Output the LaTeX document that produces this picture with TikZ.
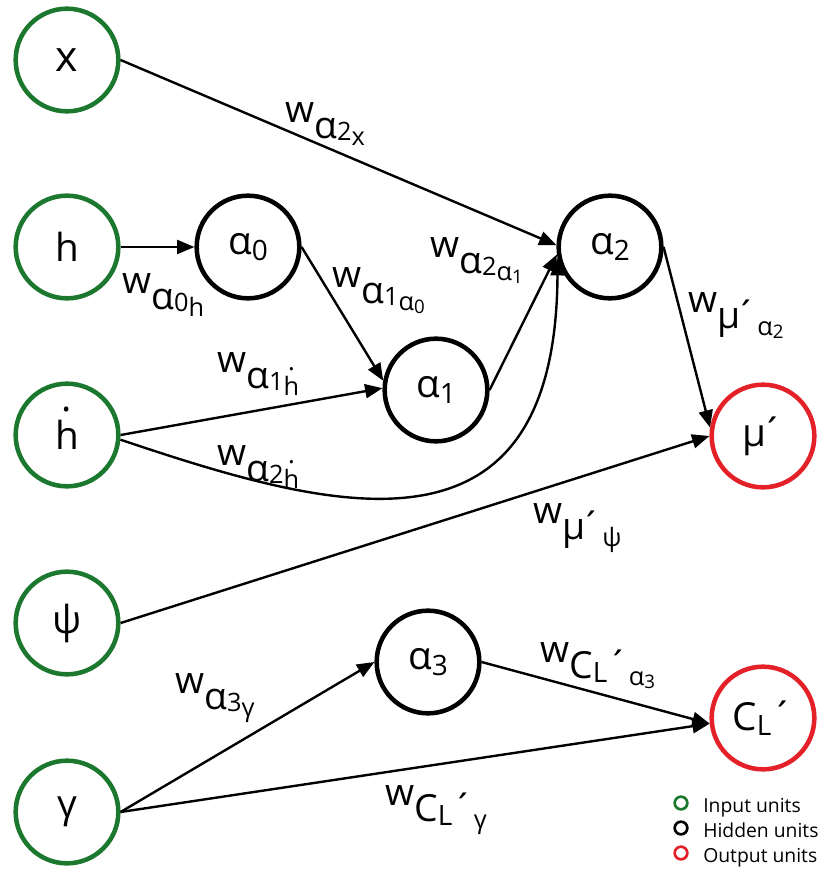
\documentclass[tikz,border=0pt]{standalone}
\usepackage{fontspec}
\setmainfont{Open Sans}
\usetikzlibrary{arrows.meta}

\definecolor{inputgreen}{RGB}{28,120,46}
\definecolor{outputred}{RGB}{228,32,40}

\newcommand\nodefont{\fontsize{29pt}{32pt}\selectfont}
\newcommand\labfont{\fontsize{28pt}{32pt}\selectfont}
\newcommand\smallfont{\fontsize{19pt}{22pt}\selectfont}
\newcommand\tinyfont{\fontsize{14pt}{16pt}\selectfont}
% h with a dot above (time derivative)
\newcommand\hdot{\ooalign{h\cr\hidewidth\raisebox{0.98em}{.}\hidewidth\cr}}
% tight prime mark
\newcommand\tick{\kern-0.12em´}
% unit name with a lowered index
\newcommand\unitidx[2]{#1\raisebox{-4pt}{\fontsize{21pt}{24pt}\selectfont #2}}
% weight label: w, target unit, its index, source unit
\newcommand\wlab[3]{w\raisebox{-12pt}{#1\raisebox{-2pt}{\smallfont #2}\raisebox{-5.5pt}{\smallfont #3}}}
\newcommand\sidx[2]{#1\raisebox{-2pt}{\tinyfont #2}}
\newcommand\CLname{C\raisebox{-3.5pt}{\fontsize{21pt}{22pt}\selectfont L}´}

\tikzset{
  unit/.style={circle, draw, line width=3.4pt, minimum size=77pt, inner sep=0pt, font=\nodefont},
  inputunit/.style={unit, draw=inputgreen},
  hiddenunit/.style={unit, draw=black},
  outputunit/.style={unit, draw=outputred},
  edge/.style={line width=1.8pt, -{Triangle[length=13pt,width=10.5pt]}},
  wlabel/.style={anchor=base west, inner sep=0pt, font=\labfont},
  legendmark/.style={circle, draw, line width=2pt, minimum size=9.5pt, inner sep=0pt},
  legendtext/.style={anchor=base west, inner sep=0pt, font=\fontsize{14.5pt}{16pt}\selectfont},
}

\begin{document}
\begin{tikzpicture}[x=0.75pt, y=-0.75pt]
\useasboundingbox (0,0) rectangle (820,871);

% input units
\node[inputunit] (x)   at (67,60)  {\fontsize{32pt}{34pt}\selectfont x};
\node[inputunit] (h)   at (67,247) {h};
\node[inputunit] (hd)  at (67,435) {\hdot};
\node[inputunit] (psi) at (67,623) {ψ};
\node[inputunit] (gam) at (67,812) {γ};

% hidden units
\node[hiddenunit] (a0) at (248,247) {\unitidx{α}{0}};
\node[hiddenunit] (a1) at (436,390) {\unitidx{α}{1}};
\node[hiddenunit] (a2) at (610,247) {\unitidx{α}{2}};
\node[hiddenunit] (a3) at (428,662) {\unitidx{α}{3}};

% output units
\node[outputunit] (mu) at (763,436) {μ\tick};
\node[outputunit] (cl) at (763,718) {\CLname};

% connections
\draw[edge] (x.east) -- (a2.178);
\draw[edge] (h.east) -- (a0.west);
\draw[edge] (a0.east) -- (a1.170);
\draw[edge] (hd.east) -- (a1.178);
\draw[edge] (a1.east) -- (a2.188);
\draw[edge] (hd.-5) .. controls (330,510) and (556,575) .. (a2.192);
\draw[edge] (a2.east) -- (mu.171);
\draw[edge] (psi.east) -- (mu.west);
\draw[edge] (gam.east) -- (a3.west);
\draw[edge] (a3.east) -- (cl.186);
\draw[edge] (gam.east) -- (cl.186);

% weight labels
\node[wlabel] (l1)  at (285,122) {\wlab{α}{2}{x}};
\node[wlabel] (l2)  at (122,293) {\wlab{α}{0}{h}};
\node[wlabel] (l3)  at (332,287) {\wlab{α}{1}{\sidx{α}{0}}};
\node[wlabel] (l4)  at (430,257) {\wlab{α}{2}{\sidx{α}{1}}};
\node[wlabel] (l5)  at (688,312) {\wlab{μ\tick}{}{\sidx{α}{2}}};
\node[wlabel] (l6)  at (217,372) {\wlab{α}{1}{\hdot}};
\node[wlabel] (l7)  at (217,465) {\wlab{α}{2}{\hdot}};
\node[wlabel] (l8)  at (533,523) {\wlab{μ\tick}{}{ψ}};
\node[wlabel] (l9)  at (175,693) {\wlab{α}{3}{γ}};
\node[wlabel] (l10) at (540,662) {\wlab{\CLname}{}{\sidx{α}{3}}};
\node[wlabel] (l11) at (385,805) {\wlab{\CLname}{}{γ}};

% legend
\node[legendmark, draw=inputgreen] (k1) at (681,803) {};
\node[legendmark, draw=black]      (k2) at (681,828) {};
\node[legendmark, draw=outputred]  (k3) at (681,853) {};
\node[legendtext] (t1) at (703,812) {Input units};
\node[legendtext] (t2) at (703,837) {Hidden units};
\node[legendtext] (t3) at (703,862) {Output units};
\end{tikzpicture}
\end{document}
